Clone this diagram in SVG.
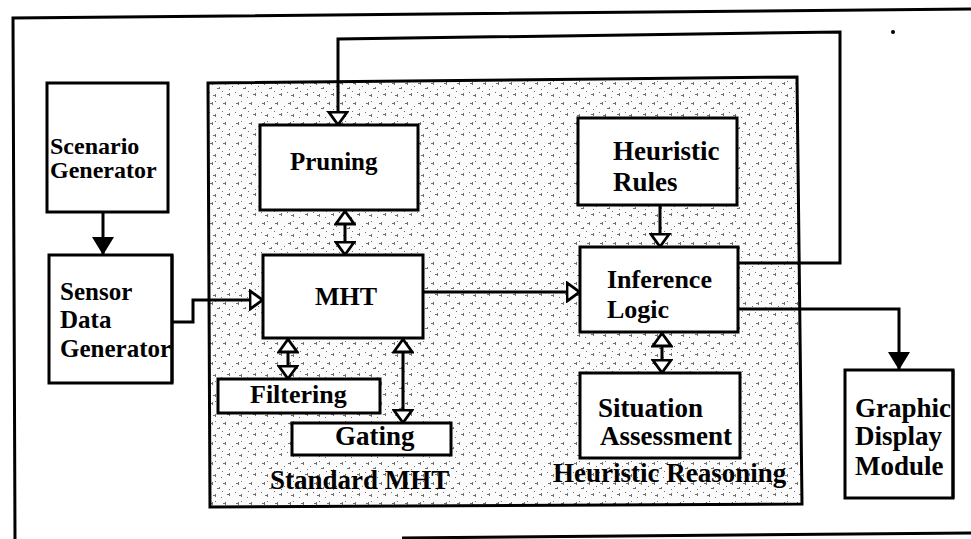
<svg xmlns="http://www.w3.org/2000/svg" width="971" height="539" viewBox="0 0 971 539">
<defs>
<style>
.box{fill:#fff;stroke:#000;stroke-width:3}
.frame{fill:none;stroke:#000;stroke-width:3}
.conn{fill:none;stroke:#000;stroke-width:3}
.lbl{font-family:"Liberation Serif","Times New Roman",serif;font-weight:bold;fill:#000}
</style>
<pattern id="stip" width="26" height="20" patternUnits="userSpaceOnUse">
<rect width="26" height="20" fill="#fbfbfb"/>
<g fill="#333" opacity="0.7">
<rect x="2" y="3" width="3" height="1"/>
<rect x="4" y="2" width="1" height="3"/>
<rect x="9" y="8" width="2" height="1"/>
<rect x="11" y="7" width="1" height="2"/>
<rect x="7" y="1" width="1" height="1"/>
<rect x="1" y="12" width="1" height="1"/>
<rect x="15" y="3" width="3" height="1"/>
<rect x="17" y="2" width="1" height="3"/>
<rect x="21" y="9" width="1" height="1"/>
<rect x="19" y="14" width="3" height="1"/>
<rect x="21" y="13" width="1" height="3"/>
<rect x="5" y="15" width="3" height="1"/>
<rect x="7" y="14" width="1" height="3"/>
<rect x="13" y="17" width="1" height="1"/>
<rect x="24" y="6" width="1" height="1"/>
<rect x="14" y="11" width="1" height="1"/>
</g>
</pattern>
<marker id="hollow" viewBox="0 0 16 22" markerWidth="16" markerHeight="22" refX="14.5" refY="11" orient="auto-start-reverse" markerUnits="userSpaceOnUse">
<path d="M1.5,1.8 L14.2,11 L1.5,20.2 Z" fill="#fff" stroke="#000" stroke-width="2.8" stroke-linejoin="miter"/>
</marker>
<marker id="solid" viewBox="0 0 18 22" markerWidth="18" markerHeight="22" refX="18" refY="11" orient="auto" markerUnits="userSpaceOnUse">
<path d="M0,0 L18,11 L0,22 Z" fill="#000"/>
</marker>
</defs>
<rect width="971" height="539" fill="#fff"/>

<g id="frame">
<polyline class="frame" points="15,539 13,18 971,9"/>
<line class="frame" x1="402" y1="538" x2="971" y2="533" stroke-width="2.5"/>
<circle cx="893" cy="32" r="2" fill="#000"/>
</g>

<g id="shaded-area">
<polygon points="208,83 797,77 802,504 210,507" fill="url(#stip)" stroke="#000" stroke-width="3"/>
<text class="lbl" x="270" y="489" font-size="27">Standard MHT</text>
<text class="lbl" x="553" y="482" font-size="27">Heuristic Reasoning</text>
</g>

<g id="connectors">
<path class="conn" d="M103,212 L103,255" marker-end="url(#solid)"/>
<path class="conn" d="M172,322 L193,322 L193,300 L263,300" marker-end="url(#hollow)"/>
<path class="conn" d="M345,211 L345,255" marker-start="url(#hollow)" marker-end="url(#hollow)"/>
<path class="conn" d="M288,339 L288,379" marker-start="url(#hollow)" marker-end="url(#hollow)"/>
<path class="conn" d="M403,339 L403,423" marker-start="url(#hollow)" marker-end="url(#hollow)"/>
<path class="conn" d="M423,292 L580,292" marker-end="url(#hollow)"/>
<path class="conn" d="M660,205 L660,247" marker-end="url(#hollow)"/>
<path class="conn" d="M662,333 L662,373" marker-start="url(#hollow)" marker-end="url(#hollow)"/>
<path class="conn" d="M738,263 L840,263 L840,32 L338,39 L338,125" marker-end="url(#hollow)"/>
<path class="conn" d="M738,309 L899,309 L899,370" marker-end="url(#solid)"/>
</g>

<g id="scenario-generator">
<rect class="box" x="47" y="83" width="121" height="129"/>
<text class="lbl" x="50" y="154" font-size="24">Scenario</text>
<text class="lbl" x="50" y="178" font-size="24">Generator</text>
</g>

<g id="sensor-data-generator">
<rect class="box" x="49" y="255" width="123" height="128"/>
<text class="lbl" x="60" y="300" font-size="25">Sensor</text>
<text class="lbl" x="60" y="328" font-size="25">Data</text>
<text class="lbl" x="60" y="357" font-size="25">Generator</text>
<line x1="172" y1="255" x2="172" y2="383" stroke="#000" stroke-width="3"/>
</g>

<g id="pruning">
<rect class="box" x="260" y="125" width="158" height="85"/>
<text class="lbl" x="290" y="170" font-size="25">Pruning</text>
</g>

<g id="mht">
<rect class="box" x="263" y="255" width="160" height="83"/>
<text class="lbl" x="315" y="305" font-size="26">MHT</text>
</g>

<g id="filtering">
<rect class="box" x="218" y="379" width="162" height="34"/>
<text class="lbl" x="250" y="403" font-size="26">Filtering</text>
</g>

<g id="gating">
<rect class="box" x="292" y="423" width="159" height="32"/>
<text class="lbl" x="335" y="445" font-size="27">Gating</text>
</g>

<g id="heuristic-rules">
<rect class="box" x="578" y="118" width="159" height="87"/>
<text class="lbl" x="613" y="160" font-size="27">Heuristic</text>
<text class="lbl" x="613" y="191" font-size="27">Rules</text>
</g>

<g id="inference-logic">
<rect class="box" x="580" y="247" width="158" height="85"/>
<text class="lbl" x="607" y="288" font-size="26">Inference</text>
<text class="lbl" x="607" y="318" font-size="26">Logic</text>
</g>

<g id="situation-assessment">
<rect class="box" x="580" y="373" width="160" height="85"/>
<text class="lbl" x="598" y="417" font-size="27">Situation</text>
<text class="lbl" x="600" y="445" font-size="27">Assessment</text>
</g>

<g id="graphic-display-module">
<rect class="box" x="845" y="370" width="108" height="128"/>
<text class="lbl" x="855" y="417" font-size="27">Graphic</text>
<text class="lbl" x="855" y="445" font-size="27">Display</text>
<text class="lbl" x="855" y="475" font-size="27">Module</text>
<line x1="953" y1="370" x2="953" y2="498" stroke="#000" stroke-width="3"/>
</g>
</svg>
